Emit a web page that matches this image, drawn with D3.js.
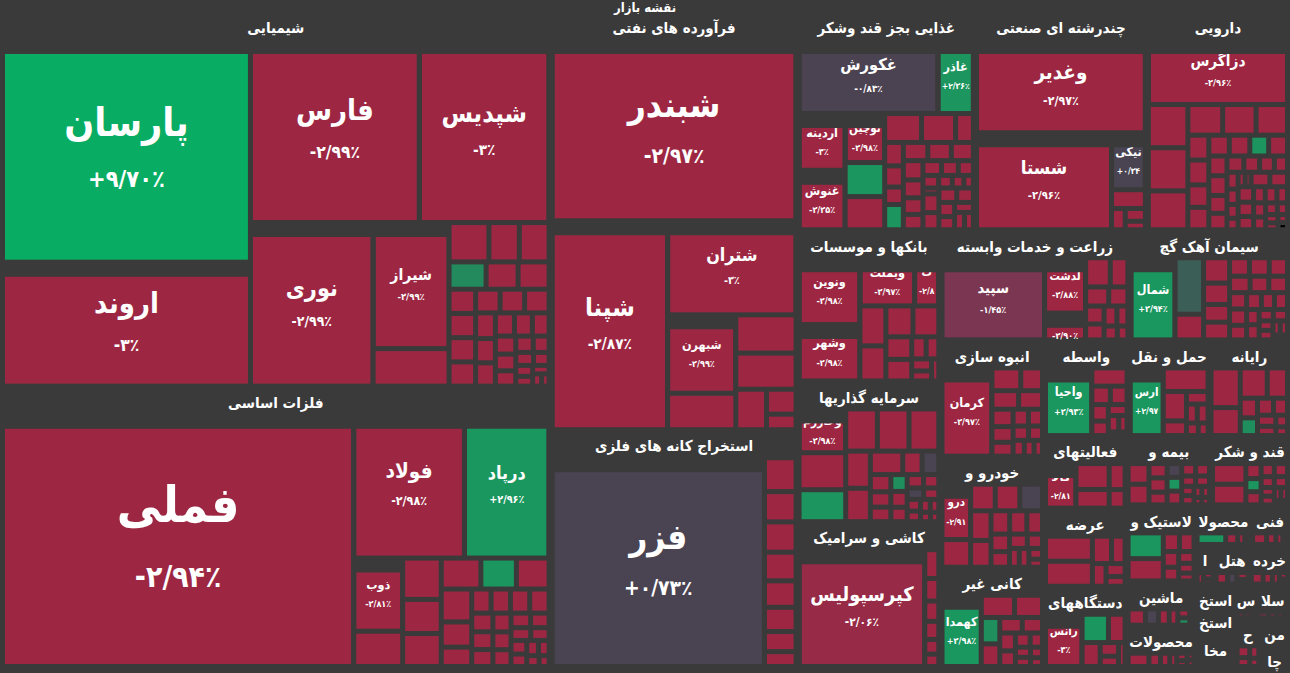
<!DOCTYPE html>
<html>
<head>
<meta charset="utf-8">
<script src="https://cdn.jsdelivr.net/npm/d3@7"></script>
<style>
    body { margin: 0; background: #3a3a3a; }
    svg { display: block; font-family: "DejaVu Sans Condensed", "DejaVu Sans", sans-serif; font-weight: bold; }
</style>
</head>
<body>
<div id="chart"></div>
<script>
var width = 1290;
var height = 673;

// sector headers, in layout order
var sectorNames = [
    "شیمیایی", "فلزات اساسی", "فرآورده های نفتی", "استخراج کانه های فلزی",
    "غذایی بجز قند وشکر", "چندرشته ای صنعتی", "دارویی", "بانکها و موسسات اعتباری",
    "سرمایه گذاریها", "کاشی و سرامیک", "زراعت و خدمات وابسته", "سیمان آهک گچ",
    "انبوه سازی املاک و مستغلات", "خودرو و ساخت قطعات", "کانی غیر فلزی", "واسطه گریهای مالی",
    "حمل و نقل انبارداری و ارتباطات", "رایانه وفعالیتهای وابسته", "فعالیتهای کمکی به نهادهای مالی",
    "عرضه برق،گاز،بخاروآب گرم", "دستگاههای برقی", "بیمه و صندوق بازنشستگی", "قند و شکر",
    "لاستیک و پلاستیک", "ماشین آلات و تجهیزات", "محصولات فلزی", "محصولات کاغذی",
    "فنی و مهندسی", "اطلاعات و ارتباطات", "هتل و رستوران", "خرده فروشی",
    "استخراج ذغال سنگ", "استخراج نفت گاز", "مخابرات", "سایر واسطه گریها",
    "سلامت", "حمل و نقل آبی", "منسوجات", "چاپ و تکثیر"
];

// stocks per sector: names (only the labelled ones), market value, change %
var chemNames = ["پارسان", "اروند", "فارس", "شپدیس", "نوری", "شیراز"];
var chemCaps = [600, 334, 336, 258, 218, 104, 31, 17, 13, 12.7, 11, 9.5, 9.2, 7, 7, 7, 7, 6.3, 6.3, 6.3,
    5.5, 5.2, 5, 4.8, 4.5, 4.2, 4, 3.7, 3.4, 3.1, 2.8, 2.5, 2.2, 2, 1.8, 1.5, 1.2, 1];
var chemChg = [9.70, -3, -2.99, -3, -2.99, -2.99, -2.98, -2.95, -2.99, -2.97, 2.1, -2.96, -2.99,
    -2.98, -2.99, -2.97, -2.95, -2.99, -2.98, -2.96,
    -2.99, -2.97, -2.98, -2.99, -2.95, -2.97, -2.99, -2.98, -2.96, -2.99, -2.97, -2.98, -2.99, -2.95, -2.98, -2.99, -2.97, -2.99];

var metalNames = ["فملی", "فولاد", "درپاد", "ذوب"];
var metalCaps = [990, 178, 136, 40, 19.3, 17.8, 14.7, 14.2, 13.7, 12.3, 11.3, 11.2, 8.6, 6.6, 5.2, 5.2, 5.2, 5.2,
    4.4, 4.2, 4, 3.8, 3.6, 3.4, 3.2, 3, 2.8, 2.6, 2.4, 2.2, 2, 1.8, 1.5, 1.2];
var metalChg = [-2.94, -2.98, 2.96, -2.81, -2.99, -2.98, -2.97, -2.99, -2.96, 2.5, -2.98, -2.99, -2.97, -2.98,
    -2.99, -2.96, -2.98, -2.99, -2.97, -2.99, -2.98, -2.96, -2.99, -2.97, -2.98, -2.99, -2.95, -2.98, -2.99, -2.97, -2.96, -2.99, -2.98, -2.97];

var petroNames = ["شبندر", "شپنا", "شتران", "شبهرن"];
var petroCaps = [480, 262, 131, 58, 27, 25, 23.6, 13.5, 8, 5];
var petroChg = [-2.97, -2.87, -3, -2.99, -2.98, -2.99, -2.96, -2.95, -2.9, -2.97];

var miningNames = ["فزر"];
var miningCaps = [509, 12.3, 11, 11, 10.4, 9.6, 8.8, 7.3, 5.4];
var miningChg = [0.73, -2.99, -2.98, -2.97, -2.99, -2.96, -2.98, -2.95, -2.9];

var foodNames = ["غکورش", "غاذر", "آردینه", "غنوش", "نوچین"];
var foodCaps = [120, 30.6, 30.5, 32, 22.6, 15.7, 15.3, 12.4, 11.5, 6, 5.1, 4.6, 3.8,
    5.5, 5.2, 5, 4.7, 4.4, 4.1, 3.8, 3.5, 3.2, 2.9, 2.6, 2.3, 2, 1.7, 1.4, 1.1,
    3.5, 3.2, 3, 2.8, 2.6, 2.4, 2.2, 2, 1.8];
var foodChg = [-0.83, 2.36, -3, -2.25, -2.98, 2.6, -2.99, -2.97, -2.98, -2.99, -2.96, -2.98, -2.99,
    2.4, -2.97, -2.99, -2.98, -2.96, -2.99, -2.97, -2.98, -2.99, -2.95, -2.98, -2.99, -2.97, -2.96, -2.99, -2.98,
    -2.99, -2.97, -2.98, -2.96, -2.99, -2.98, -2.97, -2.99, -2.95];

var multiNames = ["وغدیر", "شستا", "نیکی"];
var multiCaps = [184, 153, 22.5, 7.4, 3.4, 3, 2];
var multiChg = [-2.97, -2.96, 0.34, -2.99, -2.98, -2.97, -2.9];

var pharmaNames = ["دزاگرس"];
var pharmaCaps = [106, 20, 20, 18, 12.5, 12, 11.3, 6.1, 6.1, 5.5, 5.5, 5, 5, 4.6, 4.6, 4.2, 4.2,
    3.8, 3.5, 3.2, 3, 2.8, 2.5, 2.2, 2, 1.8, 1.5, 1.2, 1,
    3.2, 3, 2.8, 2.6, 2.4, 2.2, 2.2, 2, 2, 1.8, 1.6, 1.4, 1.2, 1, 0.9, 0.8];
var pharmaChg = [-2.96, -2.99, -2.98, -2.97, -2.99, -2.98, -2.96, -2.99, -2.97, -2.98, -2.99, -2.96, -2.98, 2.3,
    -2.99, -2.97, -2.98, -2.95, -2.99, -2.97, -2.98, -2.99, -2.96, -2.98, -2.99, -2.97, -2.95, -2.99, -2.98,
    -2.97, -2.99, -2.98, -2.96, -2.99, -2.97, -2.98, -2.99, -2.96, -2.95, -2.98, -2.97, -2.99, -2.96, -2.98];

var bankNames = ["ونوین", "وشهر", "وبملت", "وپست"];
var bankCaps = [51, 43, 33, 14.6, 13, 11.4, 10.5, 10, 7.3, 7, 4, 3.5, 3, 2.5, 2];
var bankChg = [-2.98, -2.98, -2.97, -2.88, -2.99, -2.97, -2.98, -2.96, -2.99, -2.98, -2.97, -2.99, -2.6, -2.98, -2.95];

var investNames = ["وخارزم"];
var investCaps = [26, 22, 19, 17, 17, 16, 11.7, 10.5, 9.7, 5.8, 5, 4.5,
    4, 3.8, 3.5, 3.3, 3, 2.8, 2.6, 2.4, 2.2, 2, 1.8, 1.6, 1.4, 1.2, 1];
var investChg = [-2.98, -2.99, 2.4, -2.97, -2.98, -2.99, -2.96, -2.98, -2.99, -2.97, -0.6, -2.98,
    -2.99, -2.97, 2.2, -2.98, -2.96, -2.99, -2.97, -0.3, -2.98, -2.99, -2.97, -2.95, -2.98, -2.99, -2.96];

var tileNames = ["کپرسپولیس"];
var tileCaps = [186, 5.1, 4, 3.6, 3.2, 2.6, 2.2];
var tileChg = [-2.06, -2.99, -2.98, -2.97, -2.99, -2.96, -2.98];

var agriNames = ["سپید", "گلدشت", "بگزا"];
var agriCaps = [115, 31, 15, 9.8, 7, 6, 5, 4.5, 4, 3.5, 3, 2.5, 2];
var agriChg = [-1.45, -2.88, -2.9, -2.99, -2.97, -2.98, -2.99, -2.96, -2.98, -2.99, -2.97, -2.95, -2.98];

var cementNames = ["شمال"];
var cementCaps = [49.6, 22, 10, 9, 7.6, 6.3, 6.3, 5, 5, 4.6, 4.6, 4.2, 4.2, 3.8, 3.8, 3.4, 3.4, 3, 3,
    2.6, 2.6, 2.2, 2.2, 1.8, 1.8, 1.4, 1.4, 1];
var cementChg = [2.94, 1.3, -2.99, -2.98, -2.97, -2.99, -2.96, -2.98, -2.99, -2.97, -2.98, -2.99, -2.96, -2.98,
    -2.99, -2.97, -2.98, -2.95, -2.99, -2.97, -2.98, -2.99, -2.96, -2.98, -2.99, -2.97, -2.98, -2.99];

var massNames = ["کرمان"];
var massCaps = [60, 8.9, 6.7, 6.7, 6, 5, 4.5, 4, 3.5, 3.2, 3, 2.7, 2.4, 2.1, 1.8];
var massChg = [-2.97, -2.99, -2.98, -2.97, -2.99, -2.96, -2.98, -2.99, -2.97, -2.98, -2.95, -2.99, -2.98, -2.97, -2.99];

var khodroNames = ["خودرو"];
var khodroCaps = [22, 11, 9, 9, 8.3, 8.3, 7.5, 6, 5.5, 5, 4.5, 4, 3.5, 3, 2.5, 2.5, 2, 1.5];
var khodroChg = [-2.91, -2.99, -2.98, -2.97, -0.5, -2.99, -2.96, -2.98, -2.99, -2.97, -2.98, -2.95, -2.99, -2.98, -2.97, -2.99, -2.96, -2.98];

var kaniNames = ["کهمدا"];
var kaniCaps = [40.4, 10.6, 8.9, 7, 6, 5, 4.5, 4, 3.5, 3, 2.5, 2.2, 2, 1.8, 1.5];
var kaniChg = [2.98, -2.99, -2.98, 2.2, -2.97, -2.99, -2.96, -2.98, -2.99, -2.97, -2.98, -2.95, -2.99, -2.97, -2.98];

var vasetehNames = ["واحیا"];
var vasetehCaps = [46, 9.4, 5, 4.5, 4, 3.5, 3, 2.5, 2, 1];
var vasetehChg = [2.93, -2.99, -2.98, -2.97, -2.99, -2.96, -2.98, -2.99, -2.97, -2.98];

var hamlNames = ["پارس"];
var hamlCaps = [33, 15.5, 10, 5, 4, 3, 3, 2.2, 1.8];
var hamlChg = [2.97, -2.99, -2.98, -2.97, -2.99, -2.96, -2.98, -2.99, -2.97];

var rayanehCaps = [17, 12, 12, 9, 5, 4.5, 4, 3.5, 3, 2.5, 2, 1.5];
var rayanehChg = [-2.99, -2.98, -2.97, -2.99, -2.96, 2.2, -2.98, -2.99, -2.97, -2.98, -2.95, -2.99];

var faaliatNames = ["کالا"];
var faaliatCaps = [23, 14.5, 10.5, 7, 5];
var faaliatChg = [-2.81, -2.99, -2.98, -2.97, -2.99];

var arzehCaps = [19, 19, 8.5, 6, 5, 4, 3];
var arzehChg = [-2.99, -2.98, -2.97, -2.99, -2.96, -2.98, -2.99];

var dastgahNames = ["بترانس"];
var dastgahCaps = [30.5, 11.9, 7.5, 6.9, 4, 3, 2.5];
var dastgahChg = [-3, 2.5, -2.99, -2.98, -2.97, -2.99, -2.96];

var bimeCaps = [7.5, 7.5, 4.5, 4.5, 4, 3.5, 3.5, 3.5, 3, 3, 2.5, 2.5, 2, 2, 1.5, 1.5, 1, 1];
var bimeChg = [-2.99, -2.98, -2.97, -2.99, -2.96, -0.4, 2.4, -2.98, -2.99, -2.97, -2.98, -2.95, -2.99, -2.98, -2.97, -2.99, -2.96, -2.98];

var ghandCaps = [12, 12, 4, 3.5, 3.5, 3, 3, 2.5, 2.5, 2, 2, 1.5, 1.5, 1];
var ghandChg = [-2.99, -2.98, -2.97, 2.3, -2.99, -2.96, -2.98, -2.99, -2.97, -2.98, -2.95, -2.99, -2.98, -2.97];

var lastikCaps = [15, 13, 5, 4.5, 4, 3.5, 3, 2.5, 2];
var lastikChg = [2.6, -2.99, -2.98, -2.97, -2.99, -2.96, -2.98, -2.99, -2.97];

var mashinCaps = [8, 6, 5, 4, 3, 2.5, 2];
var mashinChg = [-2.99, -0.6, -2.98, -2.97, -2.99, 2.1, -2.96];

var felziCaps = [9, 5, 4, 3, 2.5, 2, 1.5, 1.5];
var felziChg = [-2.98, -2.99, -2.97, -2.98, -2.99, -2.96, -2.98, -2.97];

var kaghaziCaps = [12, 5, 3, 2];
var kaghaziChg = [2.5, -2.99, -2.98, -2.97];

var faniCaps = [6, 4, 3, 2];
var faniChg = [-2.99, -2.98, -2.97, -2.99];

var etelaatCaps = [3, 2.5, 2];
var etelaatChg = [-2.99, -2.98, -2.97];

var hotelCaps = [5, 4, 3, 2];
var hotelChg = [-2.99, -0.5, -2.97, -2.98];

var khordehCaps = [5, 4, 3, 2, 1.5];
var khordehChg = [-2.99, -2.98, -2.97, -2.99, -2.96];

var zoghalCaps = [3.5, 3, 2.5];
var zoghalChg = [-2.99, -2.98, -2.97];

var naftCaps = [4, 3, 2.5, 1.5];
var naftChg = [-2.98, -0.5, -2.99, -2.97];

var mokhaberatCaps = [5, 4, 2.5, 1.5];
var mokhaberatChg = [-2.99, -2.98, -2.97, -2.96];

var sayerCaps = [3, 2.5, 1.5];
var sayerChg = [-2.99, -2.98, -2.97];

var salamatCaps = [4, 3, 2.5, 1.5];
var salamatChg = [-2.98, -2.99, -2.97, -2.96];

var abiCaps = [4, 3, 3, 2];
var abiChg = [-2.99, -2.98, -2.97, -2.99];

var mansujatCaps = [3, 2.5, 1.5, 1];
var mansujatChg = [-2.99, -2.98, -2.97, -2.99];

var chapCaps = [3, 2, 1];
var chapChg = [-2.99, -2.98, -2.97];

// [names, caps, changes] for every sector, same order as sectorNames
var sectorStocks = [
    [chemNames, chemCaps, chemChg], [metalNames, metalCaps, metalChg],
    [petroNames, petroCaps, petroChg], [miningNames, miningCaps, miningChg],
    [foodNames, foodCaps, foodChg], [multiNames, multiCaps, multiChg],
    [pharmaNames, pharmaCaps, pharmaChg], [bankNames, bankCaps, bankChg],
    [investNames, investCaps, investChg], [tileNames, tileCaps, tileChg],
    [agriNames, agriCaps, agriChg], [cementNames, cementCaps, cementChg],
    [massNames, massCaps, massChg], [khodroNames, khodroCaps, khodroChg],
    [kaniNames, kaniCaps, kaniChg], [vasetehNames, vasetehCaps, vasetehChg],
    [hamlNames, hamlCaps, hamlChg], [[], rayanehCaps, rayanehChg],
    [faaliatNames, faaliatCaps, faaliatChg], [[], arzehCaps, arzehChg],
    [dastgahNames, dastgahCaps, dastgahChg], [[], bimeCaps, bimeChg],
    [[], ghandCaps, ghandChg], [[], lastikCaps, lastikChg],
    [[], mashinCaps, mashinChg], [[], felziCaps, felziChg],
    [[], kaghaziCaps, kaghaziChg], [[], faniCaps, faniChg],
    [[], etelaatCaps, etelaatChg], [[], hotelCaps, hotelChg],
    [[], khordehCaps, khordehChg], [[], zoghalCaps, zoghalChg],
    [[], naftCaps, naftChg], [[], mokhaberatCaps, mokhaberatChg],
    [[], sayerCaps, sayerChg], [[], salamatCaps, salamatChg],
    [[], abiCaps, abiChg], [[], mansujatCaps, mansujatChg],
    [[], chapCaps, chapChg]
];

// build the tree the treemap wants
var tree = {
    name: "نقشه بازار",
    children: sectorNames.map(function(name, i){
        var s = sectorStocks[i];
        return {
            name: name,
            children: s[1].map(function(v, j){
                return { name: s[0][j] || "", value: v, change: s[2][j] };
            })
        };
    })
};

var color = d3.scaleLinear()
    .domain([-2.2, -1.45, -0.8, 0.8, 2.3, 10])
    .range(["#9d2743", "#7b3652", "#4a4452", "#4a4452", "#1c955e", "#07ae63"])
    .clamp(true);

var faDigits = "۰۱۲۳۴۵۶۷۸۹";
function toFa(s){
    return s.replace(/[0-9]/g, function(c){ return faDigits[+c]; });
}
function pctText(c){
    var a = Math.abs(c);
    var s = Number.isInteger(a) ? String(a) : a.toFixed(2);
    return (c > 0 ? "+" : c < 0 ? "-" : "") + toFa(s.replace(".", "/")) + "٪";
}

var root = d3.hierarchy(tree)
    .sum(function(d){ return d.value || 0; });

d3.treemap()
    .tile(d3.treemapSquarify.ratio(1))
    .size([width, 657])
    .paddingOuter(function(d){ return d.depth === 0 ? 2 : 3; })
    .paddingTop(function(d){ return d.depth === 0 ? 2 : 28; })
    .paddingInner(function(d){ return d.depth === 0 ? 2 : 5; })
    (root);

var svg = d3.select("#chart")
    .append("svg")
    .attr("width", width)
    .attr("height", height);

svg.append("rect")
    .attr("width", width)
    .attr("height", height)
    .attr("fill", "#3a3a3a");

// page title
svg.append("text")
    .attr("x", width / 2)
    .attr("y", 7)
    .attr("dy", "0.35em")
    .attr("text-anchor", "middle")
    .attr("font-size", 13)
    .attr("fill", "#fff")
    .text(tree.name);

var map = svg.append("g")
    .attr("id", "map")
    .attr("transform", "translate(0,12)");

var defs = svg.append("defs");

// the cells
var leaves = root.leaves();
var cells = map.append("g").attr("id", "cells")
    .selectAll("g")
    .data(leaves)
    .enter()
        .append("g");

cells.append("rect")
    .attr("x", function(d){ return d.x0; })
    .attr("y", function(d){ return d.y0; })
    .attr("width", function(d){ return Math.max(0, d.x1 - d.x0); })
    .attr("height", function(d){ return Math.max(0, d.y1 - d.y0); })
    .attr("fill", function(d){ return color(d.data.change); });

// shrink a text to the cell, then cut letters until it fits (fromStart: cut the
// first letters, as the name is right-to-left; else cut the last ones)
function fitText(t, d, size, minSize, fromStart){
    var w = d.x1 - d.x0;
    var avail = w - 1;
    t.attr("font-size", size);
    var len = t.node().getComputedTextLength();
    if (len > w * 0.92 && size > minSize) {
        size = Math.max(minSize, size * w * 0.92 / len);
        t.attr("font-size", size);
        len = t.node().getComputedTextLength();
    }
    var s = t.text();
    while (len > avail && s.length > 1) {
        s = fromStart ? s.slice(1) : s.slice(0, -1);
        t.text(s);
        len = t.node().getComputedTextLength();
    }
    t.attr("x", (d.x0 + d.x1) / 2).attr("text-anchor", "middle");
    return size;
}

cells.filter(function(d){ return d.data.name !== ""; })
    .each(function(d, i){
        var g = d3.select(this);
        var w = d.x1 - d.x0, h = d.y1 - d.y0;
        var id = "clip-cell-" + i;
        defs.append("clipPath").attr("id", id)
            .append("rect")
            .attr("x", d.x0).attr("y", d.y0 + 12)
            .attr("width", w).attr("height", h);
        g.attr("clip-path", "url(#" + id + ")");

        var nameSize = Math.max(12.5, Math.min(50, 0.17 * Math.sqrt(w * h)));
        var pctSize = Math.max(9, nameSize * 0.6);
        var gap = nameSize * 0.9 + pctSize * 0.9;
        var cy = (d.y0 + d.y1) / 2;

        var t1 = g.append("text")
            .attr("y", cy - gap / 2)
            .attr("dy", "0.35em")
            .attr("fill", "#fff")
            .text(d.data.name);
        fitText(t1, d, nameSize, 11.5, true);

        var t2 = g.append("text")
            .attr("y", cy + gap / 2)
            .attr("dy", "0.35em")
            .attr("fill", "#fff")
            .text(pctText(d.data.change));
        fitText(t2, d, pctSize, 8.5, false);
    });

// sector headers: first line of the wrapped name only
var sectors = root.children;
var heads = map.append("g").attr("id", "heads")
    .selectAll("text")
    .data(sectors)
    .enter()
        .append("text")
        .attr("x", function(d){ return (d.x0 + d.x1) / 2; })
        .attr("y", function(d){ return d.y0 + 14; })
        .attr("dy", "0.35em")
        .attr("text-anchor", "middle")
        .attr("font-size", 15)
        .attr("fill", "#fff");

heads.each(function(d){
    var t = d3.select(this);
    var avail = d.x1 - d.x0 - 3;
    var words = d.data.name.split(" ");
    var line = words[0];
    t.text(line);
    for (var k = 1; k < words.length; k++) {
        t.text(line + " " + words[k]);
        if (t.node().getComputedTextLength() > avail) break;
        line = line + " " + words[k];
    }
    t.text(line);
    // a single word that is still too wide loses its last letters
    while (t.node().getComputedTextLength() > avail && line.length > 1) {
        line = line.slice(0, -1);
        t.text(line);
    }
});
</script>
</body>
</html>
